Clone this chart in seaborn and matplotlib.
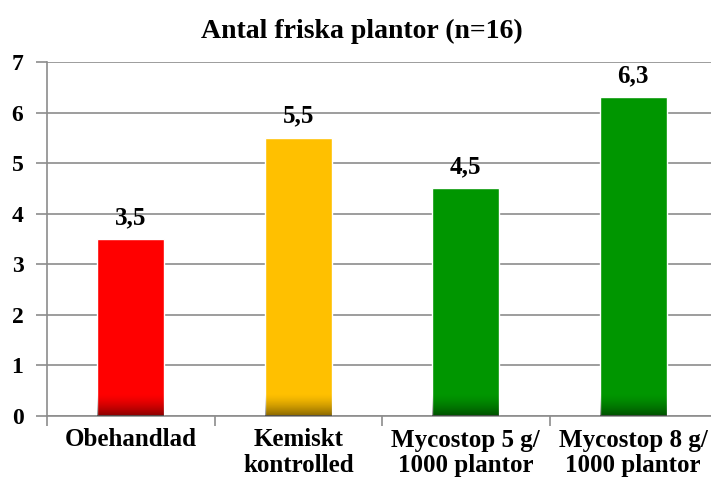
import numpy as np
import pandas as pd
import matplotlib
matplotlib.use("Agg")
import matplotlib.pyplot as plt
import seaborn as sns

# data
categories = ["Obehandlad", "Kemiskt\nkontrolled", "Mycostop 5 g/\n1000 plantor", "Mycostop 8 g/\n1000 plantor"]
values = [3.5, 5.5, 4.5, 6.3]
value_labels = ["3,5", "5,5", "4,5", "6,3"]
bar_colors = ["#ff0000", "#ffc000", "#009600", "#009600"]
y_ticks = [0, 1, 2, 3, 4, 5, 6, 7]

sns.set_theme(style="white")
plt.rcParams["font.family"] = ["Liberation Serif", "DejaVu Serif"]
plt.rcParams["font.weight"] = "bold"
plt.rcParams["text.color"] = "black"
plt.rcParams["xtick.color"] = "black"
plt.rcParams["ytick.color"] = "black"

df = pd.DataFrame({"cat": categories, "val": values})

fig = plt.figure(figsize=(7.11, 4.84), dpi=100)
ax = fig.add_axes([47 / 711, 68 / 484, 670 / 711, 354 / 484])

sns.barplot(data=df, x="cat", y="val", hue="cat", palette=bar_colors,
            width=0.4, legend=False, saturation=1, ax=ax, zorder=2)

# darker shade at the bottom of each bar
for patch in ax.patches:
    x0 = patch.get_x()
    w = patch.get_width()
    grad = np.zeros((50, 1, 4))
    grad[:, 0, 3] = np.linspace(0, 0.6, 50) ** 1.5
    ax.imshow(grad, extent=[x0, x0 + w, 0, 0.45], origin="upper",
              aspect="auto", zorder=3, interpolation="bilinear")

for i, (v, lab) in enumerate(zip(values, value_labels)):
    ax.text(i, v + 0.2, lab, ha="center", va="bottom", fontsize=18,
            fontweight="bold", color="black")

ax.set_xlim(-0.5, 3.5)
ax.set_ylim(0, 7)
ax.set_yticks(y_ticks)
ax.set_yticklabels([str(t) for t in y_ticks], fontsize=17, fontweight="bold")
ax.set_xticks(range(len(categories)))
ax.set_xticklabels(categories, fontsize=18, fontweight="bold", linespacing=1.15)
ax.set_xticks([-0.5, 0.5, 1.5, 2.5, 3.5], minor=True)

grid_col = "#8c8c8c"
ax.yaxis.grid(True, color=grid_col, linewidth=1.2)
ax.xaxis.grid(False)
ax.set_axisbelow(True)
for s in ["top", "right"]:
    ax.spines[s].set_visible(False)
for s in ["left", "bottom"]:
    ax.spines[s].set_color(grid_col)
    ax.spines[s].set_linewidth(1.2)

ax.tick_params(axis="y", which="major", left=True, length=8, color=grid_col,
               labelcolor="black", width=1.2, pad=9)
ax.tick_params(axis="x", which="major", bottom=False, length=0, pad=9, labelcolor="black")
ax.tick_params(axis="x", which="minor", bottom=True, length=7, color=grid_col, width=1.2)

ax.set_xlabel("")
ax.set_ylabel("")
fig.text(362 / 711, 1 - 31 / 484, "Antal friska plantor (n=16)", ha="center", va="center",
         fontsize=20, fontweight="bold", color="black")

fig.savefig("out.png", dpi=100)
